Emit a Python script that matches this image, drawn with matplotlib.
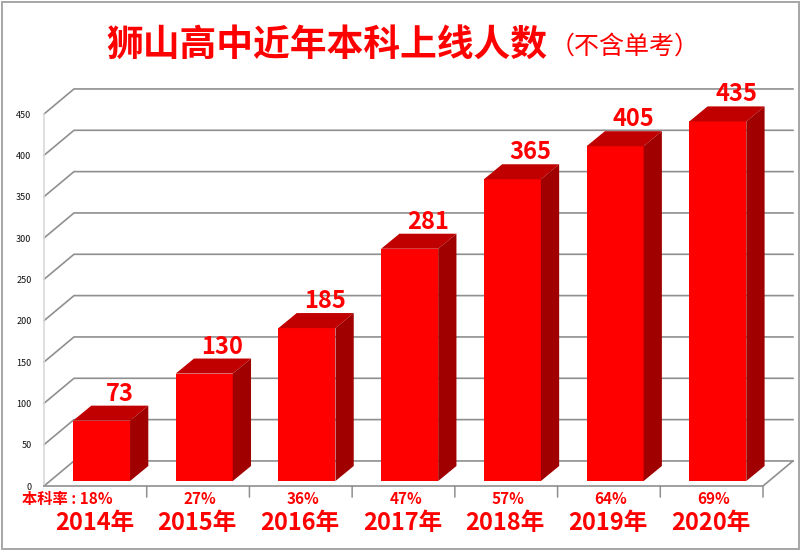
import matplotlib
matplotlib.use("Agg")
import matplotlib.pyplot as plt
from matplotlib.patches import Polygon, Rectangle

plt.rcParams['font.family'] = ['Noto Sans CJK SC', 'DejaVu Sans']

years = ['2014年', '2015年', '2016年', '2017年', '2018年', '2019年', '2020年']
counts = [73, 130, 185, 281, 365, 405, 435]
rates = ['本科率 : 18%', '27%', '36%', '47%', '57%', '64%', '69%']
yticks = [0, 50, 100, 150, 200, 250, 300, 350, 400, 450]
title = '狮山高中近年本科上线人数'
subtitle = '（不含单考）'

W, H = 800, 553
RED, TOP, SIDE = '#ff0000', '#c00000', '#a00000'
GRID = '#8f8f8f'

fig = plt.figure(figsize=(8, 5.53), dpi=100, facecolor='white')
# plot front plane: x 44..763 px, y 486..114 px
ax = fig.add_axes([44 / W, 1 - 486 / H, 719 / W, 372 / H])
ax.set_xlim(-0.5, 6.5)
ax.set_ylim(0, 450)
ax.patch.set_visible(False)
for s in ax.spines.values():
    s.set_visible(False)
ax.set_xticks([])
ax.set_yticks(yticks)
ax.tick_params(axis='y', length=0, pad=9, labelsize=6.5, labelcolor='#111111')

dx, dy = 0.292, 30.3          # wall depth
for t in yticks:
    ax.plot([-0.5, -0.5 + dx, 6.5 + dx], [t, t + dy, t + dy], color=GRID, lw=1.2,
            clip_on=False, zorder=1, solid_joinstyle='miter')
ax.plot([-0.5, -0.5], [0, 450], color='#d9d9d9', lw=1.2, clip_on=False, zorder=1)
ax.plot([-0.5, 6.5, 6.5 + dx], [0, 0, dy], color=GRID, lw=1.2, clip_on=False, zorder=1)
for i in range(1, 8):
    ax.annotate('', xy=(i - 0.5, 0), xytext=(0, -8), textcoords='offset points',
                xycoords='data',
                arrowprops=dict(arrowstyle='-', color=GRID, lw=1.1, shrinkA=0, shrinkB=0))

bw, off, bdx, bdy, lift = 0.555, 0.06, 0.178, 18.2, 6.0
for i, v in enumerate(counts):
    l, r = i + off - bw / 2, i + off + bw / 2
    b, t = lift, v + lift
    ax.add_patch(Rectangle((l, b), r - l, t - b, fc=RED, ec='none', zorder=3, clip_on=False))
    ax.add_patch(Polygon([(l, t), (r, t), (r + bdx, t + bdy), (l + bdx, t + bdy)],
                         fc=TOP, ec='none', zorder=3, clip_on=False))
    ax.add_patch(Polygon([(r, b), (r, t), (r + bdx, t + bdy), (r + bdx, b + bdy)],
                         fc=SIDE, ec='none', zorder=3, clip_on=False))
    ax.annotate(str(v), xy=(i + off + bdx, v), xytext=(0, 23), textcoords='offset points',
                ha='center', va='center', color=RED, fontsize=17, fontweight='bold', zorder=4,
                annotation_clip=False)
    rx = -0.27 if i == 0 else 0.02
    ax.annotate(rates[i], xy=(i + rx, 0), xytext=(0, -9.5), textcoords='offset points',
                ha='center', va='center', color=RED, fontsize=11, fontweight='bold',
                annotation_clip=False)
    ax.annotate(years[i], xy=(i - 0.01, 0), xytext=(0, -27), textcoords='offset points',
                ha='center', va='center', color=RED, fontsize=17, fontweight='bold',
                annotation_clip=False)

fig.text(327 / W, 1 - 45 / H, title, ha='center', va='center', color=RED, fontsize=26.5, fontweight='bold')
fig.text(625 / W, 1 - 47 / H, subtitle, ha='center', va='center', color=RED, fontsize=18, fontweight='light')

# outer chart frame
fig.add_artist(Rectangle((2 / W, 1 - 549 / H), 797 / W, 547 / H, transform=fig.transFigure,
                         fc='none', ec='#a6a6a6', lw=1.4))
fig.savefig('out.png', dpi=100, facecolor='white')
